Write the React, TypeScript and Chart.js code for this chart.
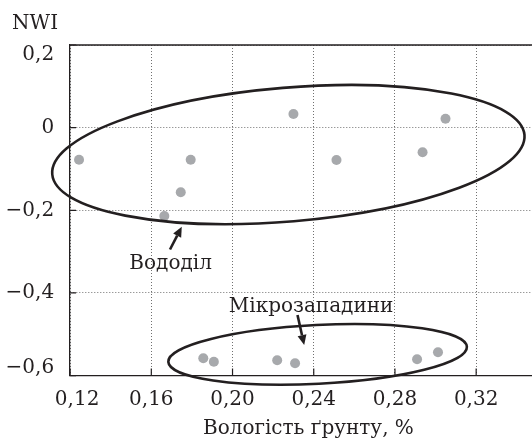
import React, { useEffect, useRef } from "react";
import { Chart, registerables } from "chart.js";

Chart.register(...registerables);

// ---- data ----
const moisture = [0.1244, 0.1794, 0.1745, 0.1664, 0.23, 0.2512, 0.2936, 0.3049, 0.1856, 0.1908, 0.222, 0.2308, 0.2909, 0.3012];
const nwi = [-0.0776, -0.0776, -0.1564, -0.2138, 0.033, -0.0783, -0.0597, 0.0217, -0.5581, -0.5664, -0.563, -0.5702, -0.5606, -0.5436];
const xTicks = [0.12, 0.16, 0.2, 0.24, 0.28, 0.32];
const yTicks = [-0.6, -0.4, -0.2, 0, 0.2];
const yTitle = "NWI";
const xTitle = "Вологість ґрунту, %";
const groupLabels = ["Вододіл", "Мікрозападини"];

// ---- annotation geometry (data units) ----
const ellipses = [
  { cx: 0.2275, cy: -0.0652, rx: 0.1167, ry: 0.1619, angle: -4.76 },
  { cx: 0.2419, cy: -0.5487, rx: 0.07362, ry: 0.07114, angle: -2.88 },
];
const arrows = [
  { x1: 0.1692, y1: -0.2949, x2: 0.175, y2: -0.2397 },
  { x1: 0.232, y1: -0.4534, x2: 0.2353, y2: -0.526 },
];
const labelPos = [
  { x: 0.1695, y: -0.342 },
  { x: 0.2387, y: -0.4454 },
];

const FONT = "'DejaVu Serif', serif";
const FS = 20;
const INK = "#231f20";

const fmt = (v: number, d: number) => {
  if (Math.abs(v) < 1e-9) return "0";
  const s = Math.abs(v).toFixed(d).replace(".", ",");
  return (v < 0 ? "\u2212" : "") + s;
};

const overlay = {
  id: "overlay",
  afterDraw(chart: any) {
    const { ctx, chartArea: ca, scales } = chart;
    const xs = scales.x;
    const ys = scales.y;
    ctx.save();
    // top frame line
    ctx.strokeStyle = INK;
    ctx.lineWidth = 1.3;
    ctx.beginPath();
    ctx.moveTo(ca.left, ca.top);
    ctx.lineTo(ca.right, ca.top);
    ctx.stroke();
    // inner tick marks
    ctx.lineWidth = 1.2;
    ctx.beginPath();
    yTicks.forEach((v) => {
      const p = ys.getPixelForValue(v);
      ctx.moveTo(ca.left, p);
      ctx.lineTo(ca.left + 6, p);
    });
    xTicks.forEach((v) => {
      const p = xs.getPixelForValue(v);
      ctx.moveTo(p, ca.bottom);
      ctx.lineTo(p, ca.bottom - 7);
    });
    ctx.stroke();

    // ellipses
    ctx.lineWidth = 2.6;
    ctx.strokeStyle = INK;
    ellipses.forEach((e) => {
      const px = xs.getPixelForValue(e.cx);
      const py = ys.getPixelForValue(e.cy);
      const rx = Math.abs(xs.getPixelForValue(e.cx + e.rx) - px);
      const ry = Math.abs(ys.getPixelForValue(e.cy + e.ry) - py);
      ctx.beginPath();
      ctx.ellipse(px, py, rx, ry, (e.angle * Math.PI) / 180, 0, Math.PI * 2);
      ctx.stroke();
    });

    // arrows
    ctx.fillStyle = INK;
    arrows.forEach((a) => {
      const x1 = xs.getPixelForValue(a.x1);
      const y1 = ys.getPixelForValue(a.y1);
      const x2 = xs.getPixelForValue(a.x2);
      const y2 = ys.getPixelForValue(a.y2);
      const ang = Math.atan2(y2 - y1, x2 - x1);
      const hl = 10;
      const hw = 4.5;
      const bx = x2 - hl * Math.cos(ang);
      const by = y2 - hl * Math.sin(ang);
      ctx.lineWidth = 2.6;
      ctx.beginPath();
      ctx.moveTo(x1, y1);
      ctx.lineTo(bx, by);
      ctx.stroke();
      ctx.beginPath();
      ctx.moveTo(x2, y2);
      ctx.lineTo(bx - hw * Math.sin(ang), by + hw * Math.cos(ang));
      ctx.lineTo(bx + hw * Math.sin(ang), by - hw * Math.cos(ang));
      ctx.closePath();
      ctx.fill();
    });

    // texts
    ctx.font = `${FS}px ${FONT}`;
    ctx.textBaseline = "alphabetic";
    ctx.textAlign = "center";
    groupLabels.forEach((t, i) => {
      ctx.fillText(t, xs.getPixelForValue(labelPos[i].x), ys.getPixelForValue(labelPos[i].y));
    });
    ctx.textAlign = "left";
    ctx.fillText(yTitle, ca.left - 58, ca.top - 15.7);
    ctx.textAlign = "center";
    ctx.fillText(xTitle, ca.left + 238.3, ca.bottom + 58.7);
    ctx.restore();
  },
};

export default function App() {
  const ref = useRef<HTMLCanvasElement | null>(null);
  useEffect(() => {
    if (!ref.current) return;
    const chart = new Chart(ref.current, {
      type: "scatter",
      data: {
        datasets: [
          {
            data: moisture.map((x, i) => ({ x, y: nwi[i] })),
            backgroundColor: "#a7a9ac",
            borderWidth: 0,
            pointRadius: 5,
          },
        ],
      },
      options: {
        animation: false,
        responsive: false,
        devicePixelRatio: 1,
        layout: { autoPadding: false, padding: { top: 45, left: 0, right: 0, bottom: 0 } },
        plugins: { legend: { display: false }, tooltip: { enabled: false }, title: { display: false } },
        scales: {
          x: {
            type: "linear",
            min: 0.12,
            max: 0.3475,
            afterBuildTicks: (s: any) => {
              s.ticks = xTicks.map((v) => ({ value: v }));
            },
            afterFit: (s: any) => {
              s.height = 67.4;
            },
            grid: { color: "#707070", lineWidth: 1, drawTicks: false },
            border: { color: INK, width: 1.3, dash: [1, 2] },
            ticks: {
              padding: 12,
              color: INK,
              font: { family: FONT, size: FS },
              maxRotation: 0,
              autoSkip: false,
              callback: (v: any) => (Math.abs(v - xTicks[0]) < 1e-9 ? "\u2002\u2009" + fmt(v, 2) : fmt(v, 2)),
            },
          },
          y: {
            type: "linear",
            min: -0.6,
            max: 0.2,
            afterBuildTicks: (s: any) => {
              s.ticks = yTicks.map((v) => ({ value: v }));
            },
            afterFit: (s: any) => {
              s.width = 70.1;
            },
            grid: { color: "#707070", lineWidth: 1, drawTicks: false },
            border: { color: INK, width: 1.3, dash: [1, 2] },
            ticks: {
              padding: 16,
              color: INK,
              font: (c: any) => {
                const v = c.tick ? c.tick.value : 0;
                let lh = 1.2;
                if (Math.abs(v - 0.2) < 1e-9) lh = 19 / FS;
                if (Math.abs(v + 0.6) < 1e-9) lh = 15.2 / FS;
                return { family: FONT, size: FS, lineHeight: lh };
              },
              callback: (v: any) => {
                if (Math.abs(v - 0.2) < 1e-9) return ["", fmt(v, 1)];
                if (Math.abs(v + 0.6) < 1e-9) return [fmt(v, 1), ""];
                return fmt(v, 1);
              },
            },
          },
        },
      },
      plugins: [overlay],
    } as any);
    return () => chart.destroy();
  }, []);
  return (
    <div style={{ position: "absolute", left: 0, top: 0, width: 532, height: 443, background: "#fff" }}>
      <canvas ref={ref} width={532} height={443} style={{ display: "block" }} />
    </div>
  );
}
